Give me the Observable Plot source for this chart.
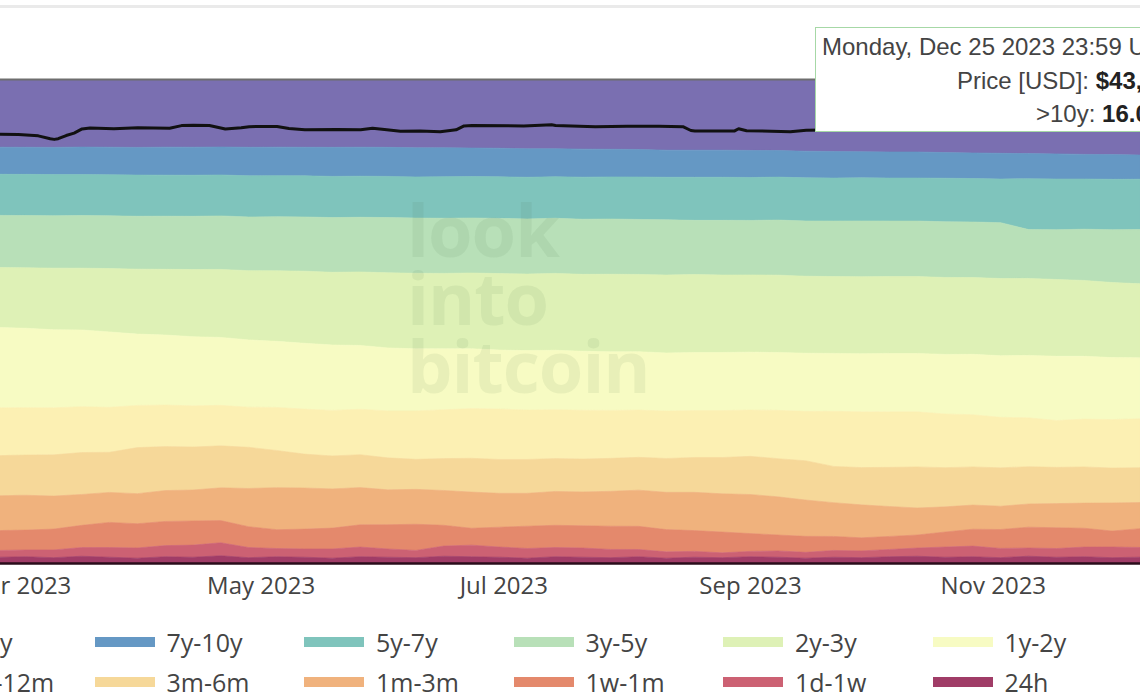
<!DOCTYPE html>
<html><head><meta charset="utf-8">
<script src="https://cdn.jsdelivr.net/npm/d3@7"></script>
<script src="https://cdn.jsdelivr.net/npm/@observablehq/plot@0.6"></script>
<style>
html,body{margin:0;padding:0;background:#fff;}
body{width:1140px;height:694px;overflow:hidden;position:relative;font-family:"Open Sans",sans-serif;}
#topline{position:absolute;left:0;top:5px;width:1140px;height:3px;background:#eaeaea;}
#chart{position:absolute;left:0;top:0;}
#wm{position:absolute;left:407px;top:195px;font:bold 72px/68px "Open Sans";color:rgba(70,100,60,0.08);pointer-events:none;letter-spacing:-1px;white-space:pre;}
#tip{position:absolute;left:815px;top:27px;width:420px;height:103px;border:1px solid #a6d8a6;background:#fff;font-family:"Liberation Sans",Arial,sans-serif;font-size:24px;color:#444;}
#tip div{position:absolute;line-height:24px;white-space:nowrap;}
#tip b{color:#222;}
.leg{position:absolute;height:40px;display:flex;align-items:center;font-size:25px;color:#444;white-space:nowrap;}
.sw{width:60px;height:10px;margin-right:12px;flex:none;}
</style>
</head><body>
<div id="topline"></div>
<div id="chart"></div>
<div id="wm">look
into
bitcoin</div>
<div id="tip">
  <div style="left:6px;top:7px">Monday, Dec 25 2023 23:59 UTC</div>
  <div style="left:141px;top:41px">Price [USD]: <b>$43,613</b></div>
  <div style="left:220px;top:74px">&gt;10y: <b>16.06%</b></div>
</div>
<div id="legend"></div>
<script>
const dates = ["2023-02-24","2023-03-03","2023-03-10","2023-03-17","2023-03-24","2023-03-31","2023-04-07","2023-04-14","2023-04-21","2023-04-28","2023-05-05","2023-05-12","2023-05-19","2023-05-26","2023-06-02","2023-06-09","2023-06-16","2023-06-23","2023-06-30","2023-07-07","2023-07-14","2023-07-21","2023-07-28","2023-08-04","2023-08-11","2023-08-18","2023-08-25","2023-09-01","2023-09-08","2023-09-15","2023-09-22","2023-09-29","2023-10-06","2023-10-13","2023-10-20","2023-10-27","2023-11-03","2023-11-10","2023-11-17","2023-11-24","2023-12-01","2023-12-08"];

const v_gt10y = [13.9,13.9,13.9,13.9,13.9,13.9,13.9,13.9,13.9,13.9,13.9,13.9,13.9,13.9,13.9,14.0,14.0,14.1,14.1,14.2,14.2,14.3,14.3,14.4,14.5,14.5,14.5,14.6,14.6,14.7,14.8,14.8,14.9,14.9,15.0,15.1,15.1,15.2,15.3,15.4,15.4,15.5];
const v_7y10y = [5.6,5.6,5.6,5.7,5.7,5.7,5.8,5.8,5.8,5.9,5.9,5.9,6.0,6.0,6.0,6.0,6.0,5.9,5.9,5.9,5.8,5.8,5.7,5.7,5.6,5.6,5.6,5.6,5.5,5.5,5.5,5.4,5.4,5.4,5.3,5.3,5.3,5.2,5.2,5.1,5.1,5.0];
const v_5y7y = [8.5,8.5,8.5,8.5,8.5,8.5,8.5,8.5,8.5,8.5,8.5,8.5,8.5,8.5,8.5,8.5,8.6,8.6,8.6,8.6,8.6,8.7,8.7,8.8,8.8,8.9,8.9,8.9,8.9,8.9,8.9,8.9,8.9,8.9,9.0,9.0,9.0,10.5,10.5,10.4,10.4,10.4];
const v_3y5y = [10.8,10.8,10.8,10.9,10.9,10.9,11.0,11.0,11.1,11.1,11.2,11.2,11.3,11.3,11.4,11.4,11.4,11.4,11.4,11.4,11.4,11.4,11.4,11.4,11.4,11.2,11.3,11.3,11.4,11.4,11.5,11.5,11.5,11.5,11.5,11.5,11.5,10.1,10.3,10.6,10.9,11.2];
const v_2y3y = [12.4,12.5,12.7,12.8,13.1,13.4,13.6,13.9,14.1,14.3,14.6,14.9,15.0,15.2,15.5,15.6,15.6,15.7,15.8,15.8,15.9,15.9,16.0,16.0,16.1,16.1,16.0,16.0,16.0,15.9,15.9,15.9,15.9,15.9,15.9,15.9,15.9,15.9,15.9,15.7,15.5,15.3];
const v_1y2y = [16.6,16.4,16.1,15.9,15.6,14.7,14.5,14.3,14.1,13.9,13.7,13.6,13.5,13.2,13.0,12.8,12.6,12.4,12.2,12.3,12.3,12.2,12.1,12.1,12.0,12.0,12.0,12.0,12.0,12.0,12.0,12.0,12.1,12.1,12.3,12.5,12.7,12.9,13.3,13.0,12.8,12.6];
const v_6m12m = [9.9,9.8,9.7,9.5,9.3,8.7,8.6,8.5,8.4,8.3,8.9,9.3,9.4,9.4,9.7,10.0,10.1,10.3,10.4,10.2,10.1,10.1,9.9,9.8,9.8,9.7,9.7,9.6,10.0,10.2,11.4,11.5,11.5,11.4,11.1,10.8,10.4,10.1,9.7,9.9,10.0,10.1];
const v_3m6m = [8.3,8.3,8.5,8.7,8.3,9.5,9.1,8.9,8.7,8.5,7.7,7.0,6.8,6.8,6.6,6.2,6.6,7.0,7.0,7.0,6.8,6.8,6.8,6.8,7.0,7.2,7.5,7.9,7.9,8.1,7.5,7.7,8.1,8.5,8.1,7.9,7.9,7.7,7.5,7.5,7.2,7.2];
const v_1m3m = [7.2,7.2,6.8,6.4,6.2,6.2,6.4,6.4,6.8,7.9,8.7,8.5,8.1,7.7,7.2,7.2,7.2,7.5,7.0,6.8,7.0,7.0,7.2,7.5,7.7,7.9,7.9,8.1,7.9,7.5,7.0,6.8,6.2,5.6,5.2,5.0,4.8,4.8,5.0,5.2,5.8,5.4];
const v_1w1m = [4.1,4.1,4.3,4.6,5.2,5.0,5.0,5.0,4.6,4.3,3.9,4.1,4.3,4.6,5.0,5.4,4.3,3.5,4.1,4.6,4.6,4.6,4.8,4.8,4.6,4.3,4.3,3.7,3.3,3.3,2.9,2.7,2.7,2.7,3.1,3.5,3.9,4.3,4.3,3.9,3.3,3.9];
const v_1d1w = [1.4,1.4,1.6,1.8,2.0,2.1,2.3,2.5,2.7,2.1,1.7,1.7,1.9,2.0,1.7,1.5,2.1,2.4,2.1,2.0,1.9,1.9,1.7,1.5,1.3,1.2,1.0,1.1,1.3,1.2,1.4,1.4,1.5,1.7,2.1,2.2,1.9,1.7,1.8,2.0,2.2,2.0];
const v_24h = [1.2,1.3,1.1,1.4,1.2,1.0,1.3,1.2,1.5,1.1,1.3,1.2,1.0,1.3,1.2,1.1,1.4,1.3,1.2,1.0,1.3,1.2,1.1,1.3,1.0,1.2,1.1,1.3,1.2,1.0,1.2,1.1,1.3,1.4,1.2,1.3,1.1,1.4,1.2,1.3,1.1,1.2];

const seriesNames = [">10y","7y-10y","5y-7y","3y-5y","2y-3y","1y-2y","6m-12m","3m-6m","1m-3m","1w-1m","1d-1w","24h"];
const seriesColors = ["#7a6fb1","#6598c4","#7fc4bc","#b8e0b8","#def1b6","#f7fbc3","#fcf0b3","#f6d899","#f0b27d","#e4896c","#cc6173","#a03c67"];

const priceDates = ["2023-02-24","2023-03-01","2023-03-06","2023-03-09","2023-03-10","2023-03-11","2023-03-13","2023-03-15","2023-03-17","2023-03-19","2023-03-25","2023-03-31","2023-04-08","2023-04-11","2023-04-14","2023-04-18","2023-04-20","2023-04-22","2023-04-26","2023-04-28","2023-05-05","2023-05-08","2023-05-12","2023-05-20","2023-05-26","2023-05-29","2023-06-01","2023-06-05","2023-06-10","2023-06-15","2023-06-19","2023-06-21","2023-06-23","2023-07-06","2023-07-13","2023-07-14","2023-07-24","2023-08-01","2023-08-09","2023-08-15","2023-08-17","2023-08-18","2023-08-28","2023-08-29","2023-08-31","2023-09-11","2023-09-15","2023-09-30","2023-10-16","2023-10-24","2023-11-09","2023-11-30","2023-12-05","2023-12-08"];
const priceUSD = [23400,23300,22400,20600,20200,20600,22600,24300,27400,28200,27600,28400,28000,30200,30500,30300,28800,27400,28300,29300,29500,27800,26800,27000,26700,27900,26900,25700,25800,25300,26700,29900,30400,29900,30900,30300,29300,29600,29700,29300,26200,25800,25900,27600,26000,25300,26400,27000,28500,34000,36700,37700,44000,43300];

const xTicks = ["2023-03-01","2023-05-01","2023-07-01","2023-09-01","2023-11-01"];

const seriesValues = [v_gt10y,v_7y10y,v_5y7y,v_3y5y,v_2y3y,v_1y2y,v_6m12m,v_3m6m,v_1m3m,v_1w1m,v_1d1w,v_24h];
const rows = [];
seriesNames.forEach((s,k) => dates.forEach((d,i) => rows.push({date:new Date(d), series:s, value:seriesValues[k][i]})));
const priceRows = priceDates.map((d,i) => ({date:new Date(d), price:priceUSD[i]}));
// hidden right-hand log price axis of the original chart
const priceAxis = d3.scaleLog().domain([0.083, 113000]).range([0,1]);

const chart = Plot.plot({
  width:1140, height:610, marginTop:80, marginBottom:47, marginLeft:0, marginRight:0,
  style:{fontFamily:"'Open Sans'", fontSize:"24px", color:"#444", background:"transparent", overflow:"visible"},
  x:{type:"utc", domain:[new Date("2023-02-24T12:00Z"), new Date("2023-12-08T00:00Z")]},
  y:{domain:[0,1], axis:null},
  color:{domain:seriesNames, range:seriesColors},
  marks:[
    Plot.areaY(rows, {x:"date", y:"value", z:"series", fill:"series", stroke:"series", strokeWidth:0.6, offset:"normalize", order:[...seriesNames].reverse(), clip:true}),
    Plot.line(priceRows, {x:"date", y:d => priceAxis(d.price), stroke:"#111", strokeWidth:3, clip:true}),
    Plot.ruleY([1], {stroke:"#6e6e6e", strokeWidth:2, dy:-1}),
    Plot.ruleY([0], {stroke:"#2a0c1b", strokeWidth:2.5}),
    Plot.axisX({ticks:xTicks.map(d => new Date(d)), tickFormat:d3.utcFormat("%b %Y"), tickSize:0, tickPadding:13, fontSize:24})
  ]
});
document.getElementById("chart").append(chart);

const legend = document.getElementById("legend");
seriesNames.forEach((s,k) => {
  const row = Math.floor(k/6), col = k % 6;
  const item = document.createElement("div");
  item.className = "leg";
  item.style.left = (-115 + 209.5*col) + "px";
  item.style.top = (622 + 40*row) + "px";
  const sw = document.createElement("div");
  sw.className = "sw";
  sw.style.background = seriesColors[k];
  const tx = document.createElement("span");
  tx.textContent = s;
  item.append(sw, tx);
  legend.append(item);
});
</script>
</body></html>
